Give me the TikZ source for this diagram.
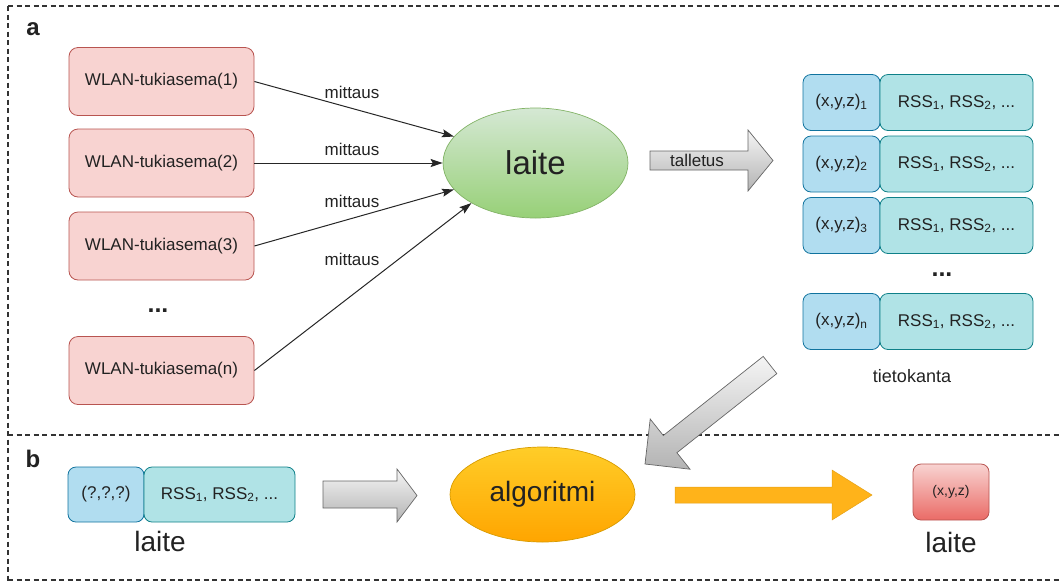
\documentclass[tikz,border=0pt]{standalone}
\usepackage{fontspec}
\setmainfont{Liberation Sans}
\usetikzlibrary{arrows.meta,shapes.geometric}
\definecolor{redfill}{HTML}{F8D3D1}
\definecolor{redline}{HTML}{B85450}
\definecolor{bluefill}{HTML}{B1DDF0}
\definecolor{blueline}{HTML}{10739E}
\definecolor{tealfill}{HTML}{B0E3E6}
\definecolor{tealline}{HTML}{0E8088}
\definecolor{greentop}{HTML}{D5E8D4}
\definecolor{greenbot}{HTML}{97D077}
\definecolor{greenline}{HTML}{82B366}
\definecolor{orangetop}{HTML}{FFCD28}
\definecolor{orangebot}{HTML}{FFA500}
\definecolor{orangeline}{HTML}{D79B00}
\definecolor{arrowor}{HTML}{FFB31A}
\definecolor{redbot}{HTML}{EA6B66}
\definecolor{greytop}{HTML}{F5F5F5}
\definecolor{greybot}{HTML}{B3B3B3}
\definecolor{greyline}{HTML}{666666}
\definecolor{txt}{HTML}{222222}
\newcommand{\fs}[1]{\fontsize{#1}{#1}\selectfont}
\begin{document}
\begin{tikzpicture}[x=1pt,y=-1pt,
  every node/.style={text=txt},
  wlan/.style={draw=redline, fill=redfill, rounded corners=9pt, line width=0.8pt,
    minimum width=185pt, minimum height=68pt, inner sep=0pt, font=\fs{17}},
  poscell/.style={draw=blueline, fill=bluefill, rounded corners=8pt, line width=0.8pt,
    minimum width=77pt, minimum height=56pt, inner sep=0pt, font=\fs{17}},
  rsscell/.style={draw=tealline, fill=tealfill, rounded corners=8pt, line width=0.8pt,
    minimum width=153pt, minimum height=56pt, inner sep=0pt, font=\fs{17}},
  lbl/.style={font=\fs{17}, inner sep=0pt},
  meas/.style={-{Stealth[length=12pt,width=8pt,inset=2pt]}, line width=1pt, draw=black!85},
  blockgrey/.style={top color=greytop, bottom color=greybot, draw=greyline, line width=0.7pt},
  frameline/.style={dashed, dash pattern=on 5pt off 3.5pt, line width=1.1pt, draw=black!80},
  dots/.style={font=\fs{25}\bfseries, inner sep=0pt},
  panel/.style={font=\fs{24}\bfseries, inner sep=0pt}
]
\useasboundingbox (0,0) rectangle (1059,582);

% frame
\draw[frameline] (8,6) -- (1059,6);
\draw[frameline] (8,6) -- (8,582);
\draw[frameline] (8,435) -- (1059,435);
\draw[frameline] (8,580) -- (1059,580);

\node[panel] (la) at (33,29) {a};
\node[panel] (lb) at (33,459) {b};

% WLAN base stations
\node[wlan] (w1) at (161.5,81.5) {WLAN-tukiasema(1)};
\node[wlan] (w2) at (161.5,163) {WLAN-tukiasema(2)};
\node[wlan] (w3) at (161.5,246) {WLAN-tukiasema(3)};
\node[dots] (wd) at (158,311) {...};
\node[wlan] (wn) at (161.5,370.5) {WLAN-tukiasema(n)};

% device
\node[ellipse, draw=greenline, top color=greentop, bottom color=greenbot, line width=0.7pt,
  minimum width=185pt, minimum height=110pt, inner sep=0pt, font=\fs{33}] (dev) at (535.5,163) {laite};

\draw[meas] (w1.east) -- (dev.162);
\draw[meas] (w2.east) -- (dev.180);
\draw[meas] (w3.east) -- (dev.198);
\draw[meas] (wn.east) -- (dev.212);

\node[lbl] (m1) at (352,92) {mittaus};
\node[lbl] (m2) at (352,149) {mittaus};
\node[lbl] (m3) at (352,201) {mittaus};
\node[lbl] (m4) at (352,259) {mittaus};

% talletus arrow
\path[blockgrey] (650,151) -- (748,151) -- (748,130) -- (773,160.5) -- (748,191) -- (748,170) -- (650,170) -- cycle;
\node[lbl] (tal) at (697,160) {talletus};

% database
\node[poscell] (p1) at (841.5,102.5) {(x,y,z)\textsubscript{1}};
\node[rsscell] (r1) at (956.5,102.5) {RSS\textsubscript{1}, RSS\textsubscript{2}, ...};
\node[poscell] (p2) at (841.5,164) {(x,y,z)\textsubscript{2}};
\node[rsscell] (r2) at (956.5,164) {RSS\textsubscript{1}, RSS\textsubscript{2}, ...};
\node[poscell] (p3) at (841.5,225.5) {(x,y,z)\textsubscript{3}};
\node[rsscell] (r3) at (956.5,225.5) {RSS\textsubscript{1}, RSS\textsubscript{2}, ...};
\node[dots] (dd) at (942,275) {...};
\node[poscell] (pn) at (841.5,321.5) {(x,y,z)\textsubscript{n}};
\node[rsscell] (rn) at (956.5,321.5) {RSS\textsubscript{1}, RSS\textsubscript{2}, ...};
\node[lbl, font=\fs{18}] (db) at (912,376) {tietokanta};

% diagonal arrow from database to algorithm
\path[blockgrey] (776.8,373.6) -- (676.9,452.7) -- (690.0,469.2) -- (645,464) -- (650.2,419.0) -- (663.3,435.5) -- (763.2,356.4) -- cycle;

% part b
\node[poscell, minimum width=76pt, minimum height=55pt] (pq) at (106,494.5) {(?,?,?)};
\node[rsscell, minimum width=151pt, minimum height=55pt] (rq) at (219.5,494.5) {RSS\textsubscript{1}, RSS\textsubscript{2}, ...};
\node[lbl, font=\fs{28}] (dl1) at (160,541) {laite};

\path[blockgrey] (323,481) -- (397,481) -- (397,469) -- (417,495.5) -- (397,522) -- (397,508) -- (323,508) -- cycle;

\node[ellipse, draw=orangeline, top color=orangetop, bottom color=orangebot, line width=0.7pt,
  minimum width=185pt, minimum height=95pt, inner sep=0pt, font=\fs{28}] (alg) at (542.5,494.5) {algoritmi};

\path[fill=arrowor, draw=arrowor!90!black, line width=0.5pt] (675,487) -- (832,487) -- (832,470) -- (872,495) -- (832,520) -- (832,503) -- (675,503) -- cycle;

\node[draw=redline, top color=redfill, bottom color=redbot, rounded corners=8pt, line width=0.8pt,
  minimum width=76pt, minimum height=56pt, inner sep=0pt, font=\fs{14}] (res) at (951,492) {(x,y,z)};
\node[lbl, font=\fs{28}] (dl2) at (951,542) {laite};
\end{tikzpicture}
\end{document}
